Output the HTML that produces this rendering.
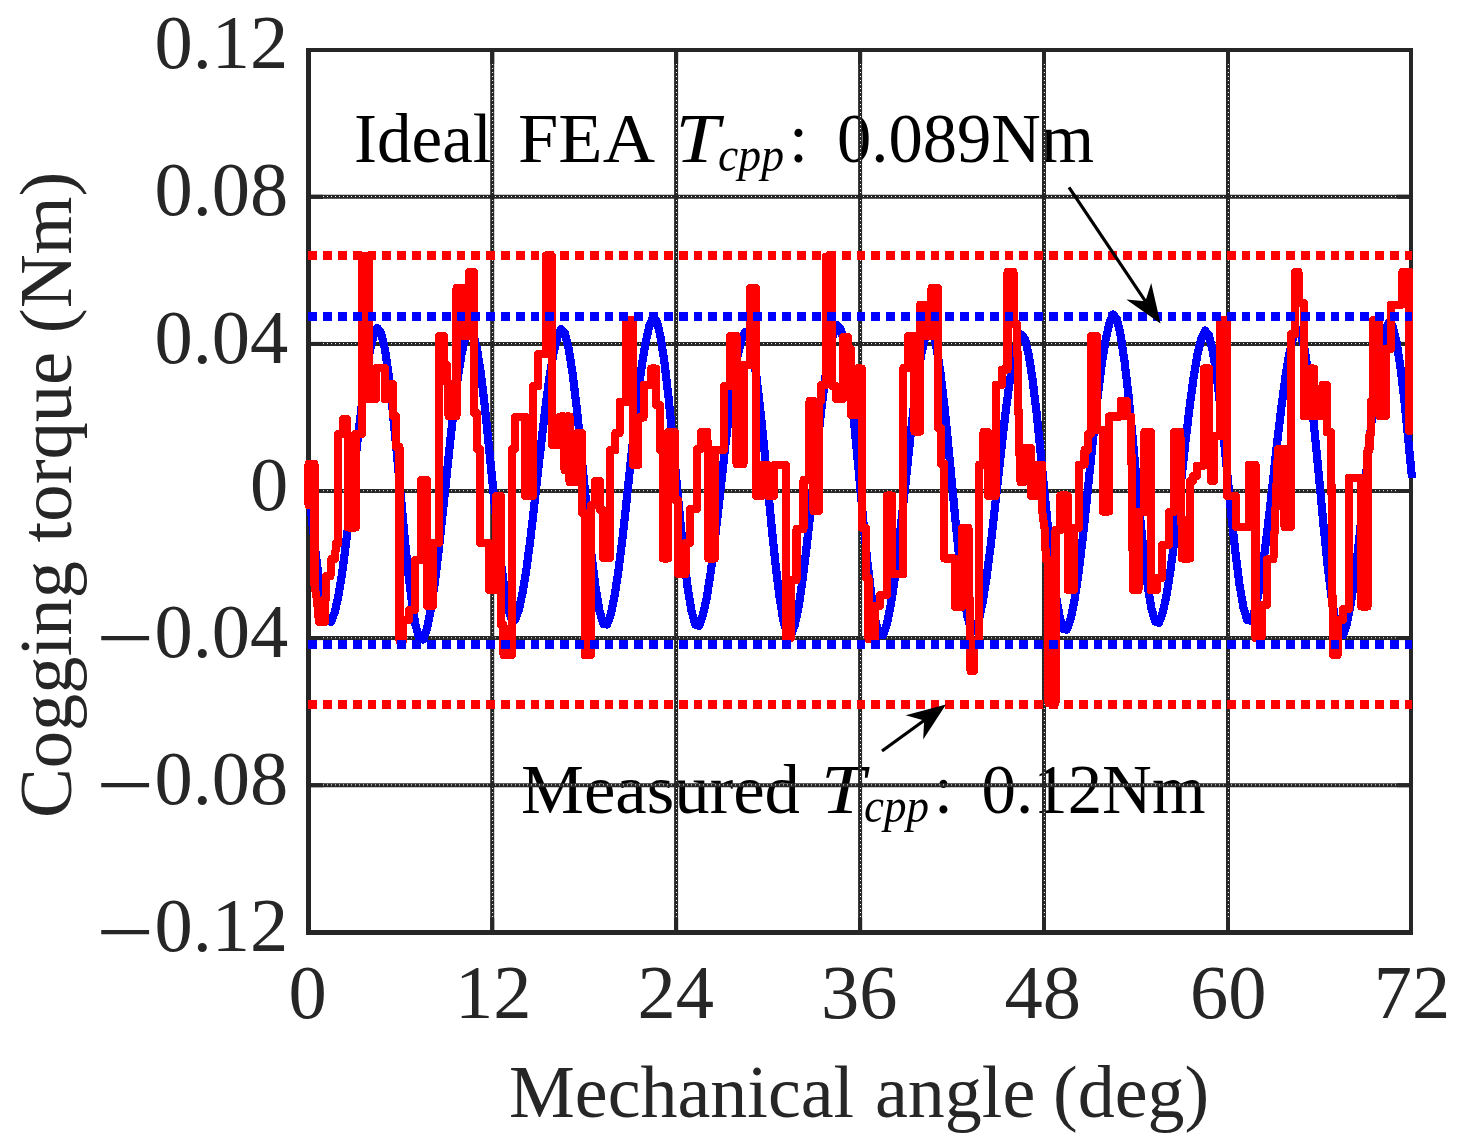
<!DOCTYPE html><html><head><meta charset="utf-8"><title>Cogging torque</title>
<style>html,body{margin:0;padding:0;background:#fff}svg{display:block}text{font-family:"Liberation Serif",serif}</style></head><body>
<svg width="1466" height="1148" viewBox="0 0 1466 1148">
<rect width="1466" height="1148" fill="#fff"/>
<g fill="#000">
<text x="354.0" y="161.5" font-size="69.5" textLength="138.0" lengthAdjust="spacingAndGlyphs" text-anchor="start">Ideal</text>
<text x="518.0" y="161.5" font-size="69.5" textLength="137.0" lengthAdjust="spacingAndGlyphs" text-anchor="start">FEA</text>
<text x="675.5" y="161.5" font-size="69.5" textLength="44.0" lengthAdjust="spacingAndGlyphs" font-style="italic" text-anchor="start">T</text>
<text x="718.0" y="171.0" font-size="48.0" textLength="66.0" lengthAdjust="spacingAndGlyphs" font-style="italic" text-anchor="start">cpp</text>
<text x="789.0" y="161.5" font-size="69.5" textLength="19.0" lengthAdjust="spacingAndGlyphs" text-anchor="start">:</text>
<text x="837.0" y="161.5" font-size="69.5" textLength="257.0" lengthAdjust="spacingAndGlyphs" text-anchor="start">0.089Nm</text>
<text x="521.0" y="812.5" font-size="69.5" textLength="279.0" lengthAdjust="spacingAndGlyphs" text-anchor="start">Measured</text>
<text x="821.0" y="812.5" font-size="69.5" textLength="44.0" lengthAdjust="spacingAndGlyphs" font-style="italic" text-anchor="start">T</text>
<text x="864.0" y="822.0" font-size="48.0" textLength="65.0" lengthAdjust="spacingAndGlyphs" font-style="italic" text-anchor="start">cpp</text>
<text x="934.0" y="812.5" font-size="69.5" textLength="19.0" lengthAdjust="spacingAndGlyphs" text-anchor="start">:</text>
<text x="981.5" y="812.5" font-size="69.5" textLength="224.0" lengthAdjust="spacingAndGlyphs" text-anchor="start">0.12Nm</text>
</g>
<g stroke="#262626" stroke-width="4">
<line x1="492.2" y1="52" x2="492.2" y2="930"/>
<line x1="676.1" y1="52" x2="676.1" y2="930"/>
<line x1="860.1" y1="52" x2="860.1" y2="930"/>
<line x1="1044.0" y1="52" x2="1044.0" y2="930"/>
<line x1="1228.0" y1="52" x2="1228.0" y2="930"/>
<line x1="311" y1="196.8" x2="1409" y2="196.8"/>
<line x1="311" y1="343.9" x2="1409" y2="343.9"/>
<line x1="311" y1="491.0" x2="1409" y2="491.0"/>
<line x1="311" y1="638.1" x2="1409" y2="638.1"/>
<line x1="311" y1="785.2" x2="1409" y2="785.2"/>
</g>
<g stroke="#fff" stroke-width="1" stroke-dasharray="1 3">
<line x1="492.6" y1="64" x2="492.6" y2="918"/>
<line x1="676.5" y1="64" x2="676.5" y2="918"/>
<line x1="860.5" y1="64" x2="860.5" y2="918"/>
<line x1="1044.4" y1="64" x2="1044.4" y2="918"/>
<line x1="1228.4" y1="64" x2="1228.4" y2="918"/>
<line x1="323" y1="196.5" x2="1397" y2="196.5"/>
<line x1="323" y1="343.6" x2="1397" y2="343.6"/>
<line x1="323" y1="490.7" x2="1397" y2="490.7"/>
<line x1="323" y1="637.8" x2="1397" y2="637.8"/>
<line x1="323" y1="784.9" x2="1397" y2="784.9"/>
</g>
<g fill="#262626">
<rect x="490.2" y="195.0" width="4" height="4"/>
<rect x="490.2" y="342.1" width="4" height="4"/>
<rect x="490.2" y="489.2" width="4" height="4"/>
<rect x="490.2" y="636.3" width="4" height="4"/>
<rect x="490.2" y="783.4" width="4" height="4"/>
<rect x="674.1" y="195.0" width="4" height="4"/>
<rect x="674.1" y="342.1" width="4" height="4"/>
<rect x="674.1" y="489.2" width="4" height="4"/>
<rect x="674.1" y="636.3" width="4" height="4"/>
<rect x="674.1" y="783.4" width="4" height="4"/>
<rect x="858.1" y="195.0" width="4" height="4"/>
<rect x="858.1" y="342.1" width="4" height="4"/>
<rect x="858.1" y="489.2" width="4" height="4"/>
<rect x="858.1" y="636.3" width="4" height="4"/>
<rect x="858.1" y="783.4" width="4" height="4"/>
<rect x="1042.0" y="195.0" width="4" height="4"/>
<rect x="1042.0" y="342.1" width="4" height="4"/>
<rect x="1042.0" y="489.2" width="4" height="4"/>
<rect x="1042.0" y="636.3" width="4" height="4"/>
<rect x="1042.0" y="783.4" width="4" height="4"/>
<rect x="1226.0" y="195.0" width="4" height="4"/>
<rect x="1226.0" y="342.1" width="4" height="4"/>
<rect x="1226.0" y="489.2" width="4" height="4"/>
<rect x="1226.0" y="636.3" width="4" height="4"/>
<rect x="1226.0" y="783.4" width="4" height="4"/>
</g>
<g fill="#262626">
<rect x="306" y="48" width="5" height="887"/><rect x="1409" y="48" width="4" height="887"/>
<rect x="306" y="48" width="1107" height="4"/><rect x="306" y="930" width="1107" height="5"/>
</g>
<g stroke="#262626" stroke-width="4">
<line x1="492.2" y1="52" x2="492.2" y2="64"/><line x1="492.2" y1="918" x2="492.2" y2="930"/>
<line x1="676.1" y1="52" x2="676.1" y2="64"/><line x1="676.1" y1="918" x2="676.1" y2="930"/>
<line x1="860.1" y1="52" x2="860.1" y2="64"/><line x1="860.1" y1="918" x2="860.1" y2="930"/>
<line x1="1044.0" y1="52" x2="1044.0" y2="64"/><line x1="1044.0" y1="918" x2="1044.0" y2="930"/>
<line x1="1228.0" y1="52" x2="1228.0" y2="64"/><line x1="1228.0" y1="918" x2="1228.0" y2="930"/>
<line x1="311" y1="196.8" x2="323" y2="196.8"/><line x1="1397" y1="196.8" x2="1409" y2="196.8"/>
<line x1="311" y1="343.9" x2="323" y2="343.9"/><line x1="1397" y1="343.9" x2="1409" y2="343.9"/>
<line x1="311" y1="491.0" x2="323" y2="491.0"/><line x1="1397" y1="491.0" x2="1409" y2="491.0"/>
<line x1="311" y1="638.1" x2="323" y2="638.1"/><line x1="1397" y1="638.1" x2="1409" y2="638.1"/>
<line x1="311" y1="785.2" x2="323" y2="785.2"/><line x1="1397" y1="785.2" x2="1409" y2="785.2"/>
</g>
<polyline points="308.2,481.7 312.0,520.2 315.9,555.6 319.7,585.5 323.5,607.8 327.4,621.0 331.2,621.7 335.0,611.2 338.9,593.3 342.7,568.9 346.5,539.3 350.4,506.1 354.2,471.3 358.0,436.7 361.9,404.2 365.7,375.7 369.5,352.8 373.4,336.6 377.2,327.9 381.0,332.6 384.9,349.2 388.7,375.2 392.5,408.9 396.3,447.9 400.2,489.5 404.0,530.8 407.8,568.8 411.7,600.8 415.5,624.7 419.3,638.8 423.2,639.6 427.0,628.4 430.8,609.4 434.7,583.5 438.5,552.2 442.3,517.0 446.2,480.0 450.0,443.3 453.8,408.9 457.7,378.7 461.5,354.3 465.3,337.1 469.2,328.0 473.0,332.3 476.8,347.8 480.7,372.2 484.5,403.7 488.3,440.2 492.2,479.2 496.0,517.9 499.8,553.4 503.7,583.4 507.5,605.8 511.3,619.0 515.2,619.8 519.0,609.3 522.8,591.6 526.7,567.4 530.5,538.1 534.3,505.3 538.1,470.8 542.0,436.6 545.8,404.4 549.6,376.2 553.5,353.5 557.3,337.5 561.1,328.9 565.0,333.4 568.8,349.1 572.6,373.8 576.5,405.7 580.3,442.8 584.1,482.3 588.0,521.4 591.8,557.5 595.6,587.9 599.5,610.6 603.3,624.0 607.1,624.6 611.0,613.6 614.8,594.8 618.6,569.3 622.5,538.3 626.3,503.6 630.1,467.1 634.0,430.8 637.8,396.9 641.6,367.0 645.5,343.0 649.3,326.0 653.1,316.9 657.0,321.6 660.8,338.0 664.6,363.8 668.5,397.1 672.3,435.8 676.1,477.0 680.0,517.8 683.8,555.5 687.6,587.2 691.5,610.8 695.3,624.8 699.1,625.7 702.9,615.2 706.8,597.3 710.6,572.9 714.4,543.3 718.3,510.1 722.1,475.3 725.9,440.7 729.8,408.2 733.6,379.7 737.4,356.8 741.3,340.6 745.1,331.9 748.9,336.5 752.8,352.7 756.6,378.0 760.4,410.8 764.3,448.8 768.1,489.4 771.9,529.6 775.8,566.6 779.6,597.8 783.4,621.1 787.3,634.9 791.1,635.6 794.9,624.5 798.8,605.5 802.6,579.7 806.4,548.4 810.3,513.4 814.1,476.6 817.9,440.0 821.8,405.6 825.6,375.5 829.4,351.2 833.3,334.1 837.1,325.0 840.9,329.6 844.8,346.1 848.6,372.0 852.4,405.5 856.2,444.3 860.1,485.8 863.9,526.8 867.7,564.6 871.6,596.5 875.4,620.3 879.2,634.3 883.1,635.1 886.9,624.1 890.7,605.4 894.6,579.9 898.4,548.9 902.2,514.3 906.1,477.8 909.9,441.7 913.7,407.7 917.6,377.9 921.4,353.9 925.2,337.0 929.1,327.9 932.9,332.5 936.7,348.6 940.6,373.8 944.4,406.6 948.2,444.5 952.1,484.9 955.9,525.0 959.7,561.9 963.6,593.0 967.4,616.2 971.2,629.9 975.1,630.7 978.9,620.1 982.7,602.0 986.6,577.4 990.4,547.6 994.2,514.2 998.0,479.0 1001.9,444.1 1005.7,411.4 1009.5,382.6 1013.4,359.5 1017.2,343.1 1021.0,334.4 1024.9,338.8 1028.7,354.6 1032.5,379.2 1036.4,411.1 1040.2,448.1 1044.0,487.5 1047.9,526.6 1051.7,562.6 1055.5,593.0 1059.4,615.6 1063.2,629.0 1067.0,629.6 1070.9,618.3 1074.7,599.1 1078.5,572.9 1082.4,541.2 1086.2,505.6 1090.0,468.2 1093.9,431.1 1097.7,396.3 1101.5,365.8 1105.4,341.1 1109.2,323.7 1113.0,314.5 1116.9,319.1 1120.7,335.5 1124.5,361.2 1128.4,394.5 1132.2,433.1 1136.0,474.2 1139.9,515.0 1143.7,552.6 1147.5,584.3 1151.3,607.9 1155.2,621.8 1159.0,622.8 1162.8,612.3 1166.7,594.5 1170.5,570.2 1174.3,540.8 1178.2,507.8 1182.0,473.2 1185.8,438.7 1189.7,406.5 1193.5,378.2 1197.3,355.3 1201.2,339.2 1205.0,330.6 1208.8,335.0 1212.7,350.4 1216.5,374.6 1220.3,406.0 1224.2,442.3 1228.0,481.0 1231.8,519.5 1235.7,554.8 1239.5,584.6 1243.3,606.9 1247.2,620.0 1251.0,620.8 1254.8,610.3 1258.7,592.5 1262.5,568.3 1266.3,538.9 1270.2,505.9 1274.0,471.3 1277.8,436.9 1281.7,404.7 1285.5,376.4 1289.3,353.6 1293.2,337.5 1297.0,328.9 1300.8,333.5 1304.7,349.8 1308.5,375.4 1312.3,408.5 1316.1,446.8 1320.0,487.7 1323.8,528.2 1327.6,565.5 1331.5,597.0 1335.3,620.5 1339.1,634.4 1343.0,635.1 1346.8,623.9 1350.6,604.8 1354.5,578.8 1358.3,547.2 1362.1,511.9 1366.0,474.8 1369.8,437.9 1373.6,403.3 1377.5,372.9 1381.3,348.5 1385.1,331.2 1389.0,322.0 1392.8,326.4 1396.6,342.4 1400.5,367.5 1404.3,400.0 1408.1,437.7 1412.0,477.9" fill="none" stroke="#0000ff" stroke-width="8.2" stroke-linejoin="round" stroke-linecap="butt" shape-rendering="crispEdges"/>
<polyline points="308.5,505 308.5,464 314.5,464 314.5,585 317,600 319,622 325,622 326,576 330.5,576 331.5,559 335,559 336,543 338.3,543 338.3,434 343,434 343,419 347,419 347,434 348,434 348,527.5 355.7,527.5 355.7,434 362,434 362,256 368.5,256 368.5,399 376,399 376,368 384.7,368 384.7,399 389,399 389,384 393,384 393,416 396,416 396,447 399.5,447 399.5,641 403,641 403,620 409,620 409,610 415,610 415,560 421,560 421,480 427,480 427,606 433,606 433,543 439,543 439,336 444,336 444,365 447,365 448.5,416 456.5,416 456.5,288 463,288 463,336 469,336 469,272 474,272 474,413 477,413 477,449 480,449 480,543 489,543 489,590 496,590 496,496 501,496 501,625 503.5,625 503.5,655 512,655 512,449 515,449 515,417 525.3,417 525.3,496 533,496 533,386 538.3,386 538.3,354 545.7,354 545.7,256 552,256 552,445 560,445 560,416.5 564.5,416.5 564.5,470 566,470 566,416.5 569.5,416.5 569.5,482 577,482 577,433 582,433 582,513 584.7,513 584.7,655 591,655 591,505 595,505 595,481 600,481 600,510 603,510 603,558 610,558 610,450 615.4,450 615.4,433 619.6,433 619.6,402 626.5,402 626.5,320 632.8,320 632.8,464.8 638.4,464.8 638.4,417.5 643.6,417.5 643.6,385 651.4,385 651.4,368.5 656,368.5 656,405 660,405 660,450 663,450 663,558.5 668,558.5 668,432 675,432 675,500 678,500 678,574 685.5,574 685.5,543 690,543 690,509 697,509 697,449 701,449 701,432 707.4,432 708.4,558.5 714.7,558.5 714.7,450 724,450 724,386 730,386 730,336 736.5,336 736.5,464 743.5,464 743.5,365 750,365 750,288 756,288 756,496 762,496 762,465 768,465 768,496 774,496 774,465 786,465 786,638 791,638 791,580 796.5,580 796.5,529 803.5,529 803.5,480 809.5,480 809.5,401 813.5,401 813.5,511 819,511 819,401 821,401 821,385 826,385 826,256.5 832,256.5 832,386 836,386 836,399 843,399 843,337 848,337 848,349 851,349 851,415 856.6,415 856.6,368.5 861.8,368.5 861.8,528 866,528 866,578 868.5,578 868.5,639 874.8,639 874.8,606 880,606 880,595 887,595 887,495.5 892,495.5 892,574 903.4,574 903.4,368 908,368 908,336 914.5,336 914.5,431.5 920.4,431.5 920.4,304.6 926,304.6 926,336 931.5,336 931.5,288 938,288 938,428 941,428 941,463.7 944.4,463.7 944.4,558.5 955,558.5 955,607 962,607 962,528 968.5,528 970.5,671 974,671 974,641 979.3,641 979.3,464.6 983.5,464.6 983.5,432 988,432 988,496 995.6,496 995.6,385 1002,385 1002,369.5 1007.5,369.5 1007.5,272 1013.5,272 1014.4,324 1017,324 1019,440 1020.5,482 1024,482 1024,448 1031,448 1031,496 1038,496 1038,464.6 1042,464.6 1042,510 1044.5,528 1046,560 1048.5,560 1048.5,703 1055.5,703 1055.5,530 1060.4,530 1060.4,495.5 1067.8,495.5 1067.8,590 1074,590 1074,528 1079,528 1079,464.6 1084.5,464.6 1084.5,450 1088,450 1088,434 1091,434 1091,336 1097,336 1097,430 1102.6,430 1102.6,511.5 1108.9,511.5 1108.9,416.5 1120.8,416.5 1120.8,401 1127,401 1127,416.5 1131,416.5 1132,500 1133,590 1138.5,590 1138.5,512 1144.4,512 1144.4,432 1150.7,432 1150.7,590 1157,590 1157,578 1162,578 1162,545 1169,545 1169,512 1174,512 1174,432 1180.4,432 1182,558.5 1190,558.5 1190,481 1193,481 1193,476 1197,476 1197,465.6 1203.8,465.6 1203.8,368.5 1209.2,368.5 1209.2,440 1211,440 1211,481 1214,481 1214,436 1220.5,436 1220.5,320.5 1227,320.5 1227,496 1236,496 1236,527 1249,527 1249,464.6 1255.5,464.6 1255.5,638 1261.5,638 1261.5,605 1267,605 1267,559.4 1273.4,559.4 1278,449 1284.5,449 1284.5,527 1290.7,527 1291,334 1295.3,334 1295.3,272 1298.5,272 1298.5,303 1303.7,303 1303.7,416 1310,416 1310,368.5 1314,368.5 1314,416 1322.5,416 1322.5,385 1326.7,385 1326.7,432 1331,432 1333,655 1337.6,655 1337.6,620 1343,620 1343,609 1348.7,609 1348.7,478 1361.2,478 1361.2,606.5 1367.5,606.5 1367.5,450 1369.5,450 1369.5,434 1371,434 1371,401 1373,401 1373,320 1379.4,320 1379.4,416 1385.7,416 1385.7,349 1391,349 1391,304.6 1402.4,304.6 1402.4,272 1409.3,272 1409.3,431" fill="none" stroke="#ff0000" stroke-width="8.1" stroke-linejoin="round" stroke-linecap="round" shape-rendering="crispEdges"/>
<g fill="none" stroke-width="8.9" stroke-dasharray="8.8 6.014" shape-rendering="crispEdges">
<line x1="308.4" y1="255.7" x2="1412" y2="255.7" stroke="#ff0000"/>
<line x1="308.4" y1="704.1" x2="1412" y2="704.1" stroke="#ff0000"/>
<line x1="308.4" y1="316.3" x2="1412" y2="316.3" stroke="#0000ff"/>
<line x1="308.4" y1="644.1" x2="1412" y2="644.1" stroke="#0000ff"/>
</g>
<line x1="1069.0" y1="187.4" x2="1148.2" y2="305.3" stroke="#000" stroke-width="3.2"/><polygon points="1160.5,323.6 1126.3,299.6 1145.4,301.2 1151.2,282.9" fill="#000"/>
<line x1="882.0" y1="751.0" x2="928.2" y2="717.5" stroke="#000" stroke-width="3.2"/><polygon points="946.0,704.6 923.2,739.6 924.1,720.4 905.6,715.3" fill="#000"/>
<g fill="#262626" font-size="76.5">
<text x="288.3" y="68.4" text-anchor="end">0.12</text>
<text x="288.3" y="215.4" text-anchor="end">0.08</text>
<text x="288.3" y="362.5" text-anchor="end">0.04</text>
<text x="288.3" y="509.6" text-anchor="end">0</text>
<text x="288.3" y="656.7" text-anchor="end">0.04</text>
<text x="96.3" y="665.5" font-size="84" textLength="58" lengthAdjust="spacingAndGlyphs">−</text>
<text x="288.3" y="803.8" text-anchor="end">0.08</text>
<text x="96.3" y="812.6" font-size="84" textLength="58" lengthAdjust="spacingAndGlyphs">−</text>
<text x="288.3" y="950.8" text-anchor="end">0.12</text>
<text x="96.3" y="959.6" font-size="84" textLength="58" lengthAdjust="spacingAndGlyphs">−</text>
<text x="307.6" y="1018" text-anchor="middle">0</text>
<text x="493.3" y="1018" text-anchor="middle">12</text>
<text x="675.8" y="1018" text-anchor="middle">24</text>
<text x="859.2" y="1018" text-anchor="middle">36</text>
<text x="1042.8" y="1018" text-anchor="middle">48</text>
<text x="1228.2" y="1018" text-anchor="middle">60</text>
<text x="1411.9" y="1018" text-anchor="middle">72</text>
</g>
<g fill="#262626" font-size="74">
<text x="509" y="1117">Mechanical</text><text x="875" y="1117">angle</text><text x="1053" y="1117">(deg)</text>
<text transform="translate(71,818) rotate(-90)" font-size="74.6">Cogging torque (Nm)</text>
</g>
</svg></body></html>
